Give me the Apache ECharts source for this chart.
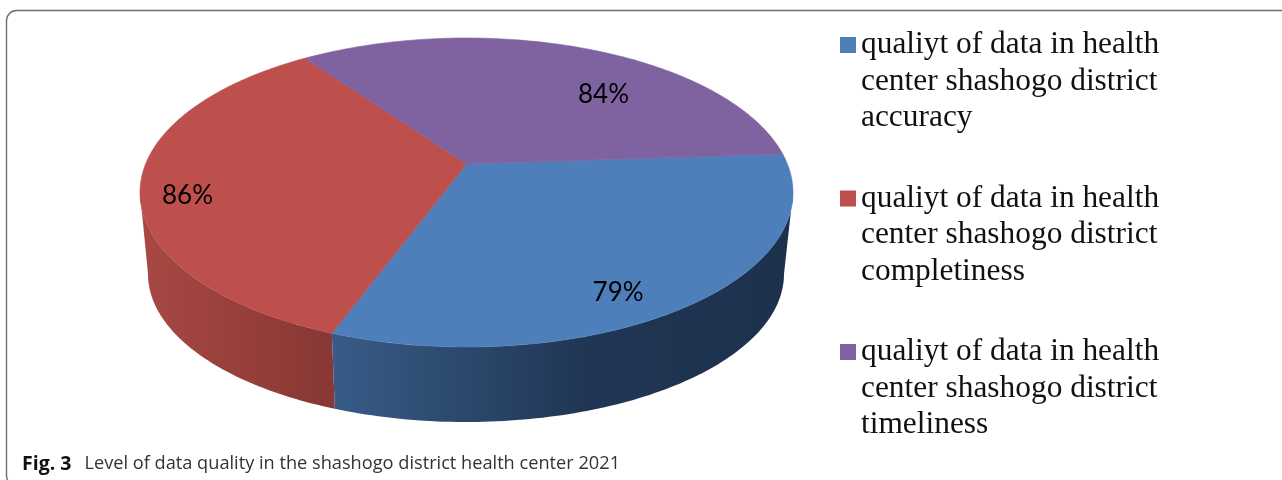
<!DOCTYPE html>
<html>
<head>
<meta charset="utf-8">
<style>html,body{margin:0;padding:0;background:#fff}#chart{width:1282px;height:480px}</style>
<script src="https://cdn.jsdelivr.net/npm/echarts@6/dist/echarts.min.js"></script>
</head>
<body>
<div id="chart"></div>
<script>
// Data quality dimensions and their scores (%)
const dimensions = ['accuracy', 'completiness', 'timeliness'];
const scores = [79, 86, 84];
const legendPrefix = 'qualiyt of data in health\ncenter shashogo district\n';

// Styling per slice
const topColors = ['#4e7fbb', '#bd4f4c', '#7f63a0'];
const wallStops = [
  [[0, '#385c87'], [0.55, '#203654'], [1, '#1d314d']],
  [[0, '#a84844'], [1, '#873734']],
  [[0, '#5f4a7a'], [1, '#5f4a7a']]
];
// Label anchors in disk space: [angle in degrees, radius fraction]
const labelAnchors = [[299, 0.84], [193, 0.862], [48, 0.696]];

// Perspective disk: the rim is projected to an ellipse and the hub sits above its centre
const startAngle = 3.9;
const hubShift = 0.184;
const topFace = {cx: 466.5, cy: 192.5, rx: 326.5, ry: 154.5};
const baseFace = {cx: 466, cy: 274, rx: 318, ry: 148};
const rimLimit = Math.asin(hubShift) * 180 / Math.PI;

function project(face, deg, r) {
  const t = deg * Math.PI / 180;
  const u = r * Math.cos(t), v = r * Math.sin(t);
  const d = 1 + hubShift * v;
  const s = Math.sqrt(1 - hubShift * hubShift);
  return [face.cx + face.rx * u * s / d, face.cy - face.ry * (v + hubShift) / d];
}

function arcPoints(face, from, to) {
  const n = Math.max(2, Math.ceil(Math.abs(to - from)));
  const pts = [];
  for (let i = 0; i <= n; i++) pts.push(project(face, from + (to - from) * i / n, 1));
  return pts;
}

// Slices run clockwise from startAngle, each sized by its share of the total
const total = scores.reduce((a, b) => a + b, 0);
function sliceRange(index) {
  const before = scores.slice(0, index).reduce((a, b) => a + b, 0);
  const from = startAngle - before / total * 360;
  return [from, from - scores[index] / total * 360];
}

// Part of a slice that lies on the viewer-facing side of the wall
function frontPart(from, to) {
  const lo = 180 + rimLimit, hi = 360 - rimLimit;
  for (const k of [-360, 0, 360]) {
    const a = Math.min(from + k, hi), b = Math.max(to + k, lo);
    if (a > b) return [a, b];
  }
  return null;
}

function renderSlice(params, api) {
  const i = params.seriesIndex;
  const value = api.value(0);
  const range = sliceRange(i);
  const children = [];
  const front = frontPart(range[0], range[1]);
  if (front) {
    children.push({
      type: 'polygon',
      shape: {points: arcPoints(topFace, front[0], front[1]).concat(arcPoints(baseFace, front[1], front[0]))},
      style: {fill: {type: 'linear', x: 0, y: 0, x2: 1, y2: 0, colorStops: wallStops[i].map(s => ({offset: s[0], color: s[1]}))}}
    });
  }
  children.push({
    type: 'polygon',
    shape: {points: [project(topFace, 0, 0)].concat(arcPoints(topFace, range[0], range[1]))},
    style: {fill: topColors[i], stroke: topColors[i], lineWidth: 0.6}
  });
  const at = project(topFace, labelAnchors[i][0], labelAnchors[i][1]);
  children.push({
    type: 'text',
    z2: 10,
    style: {
      x: at[0] + 0.5, y: at[1] + 1.5, text: value + '%', align: 'center', verticalAlign: 'middle',
      font: '26px Lato', fill: '#000'
    }
  });
  return {type: 'group', children};
}

const names = dimensions.map(d => legendPrefix + d);

const chart = echarts.init(document.getElementById('chart'));
chart.setOption({
  animation: false,
  legend: {
    orient: 'vertical',
    left: 835,
    top: -51,
    height: 900,
    data: names,
    icon: 'rect',
    itemWidth: 16,
    itemHeight: 16,
    itemGap: -28.5,
    selectedMode: false,
    // Two blank lines above put the key level with the first line of each entry
    formatter: name => ' \n \n' + name,
    textStyle: {
      fontFamily: 'Liberation Serif',
      fontSize: 31.4,
      lineHeight: 36.4,
      color: '#111'
    }
  },
  title: {
    left: 22,
    top: 454,
    padding: 0,
    text: '{b|Fig. 3}{r|Level of data quality in the shashogo district health center 2021}',
    textStyle: {
      rich: {
        b: {fontFamily: 'Open Sans', fontWeight: 'bold', fontSize: 19.5, color: '#111'},
        r: {fontFamily: 'Open Sans', fontWeight: 'normal', fontSize: 18.2, color: '#333', padding: [0, 0, 0, 13]}
      }
    }
  },
  graphic: [{
    type: 'rect',
    z: -1,
    shape: {x: 6.5, y: 10.5, width: 1400, height: 475, r: 10},
    style: {fill: 'none', stroke: '#6e6e6e', lineWidth: 1.4}
  }],
  series: names.map((name, i) => ({
    type: 'custom',
    name,
    coordinateSystem: 'none',
    itemStyle: {color: topColors[i]},
    renderItem: renderSlice,
    data: [[scores[i]]]
  }))
});
</script>
</body>
</html>
